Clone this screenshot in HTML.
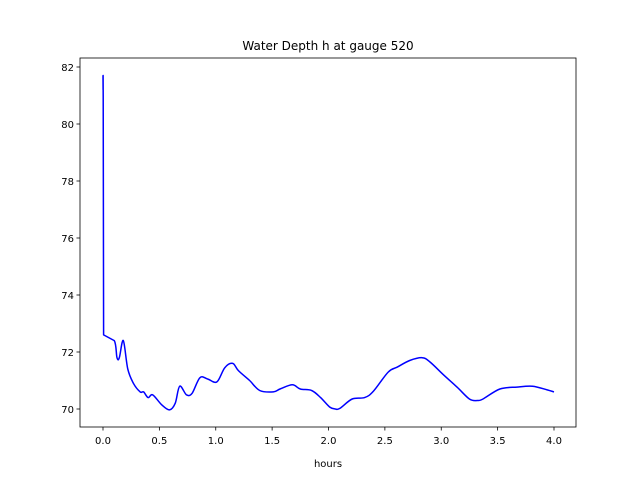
<!DOCTYPE html>
<html><head><meta charset="utf-8"><style>body{margin:0;background:#fff}svg{display:block;font-family:"DejaVu Sans","Liberation Sans",sans-serif}</style></head>
<body>
<svg id="c" width="640" height="480"></svg>
<script>
const hours=[0,0.0005,0.001,0.002,0.005,0.1,0.124,0.145,0.18,0.22,0.27,0.33,0.36,0.40,0.44,0.52,0.59,0.64,0.68,0.74,0.79,0.86,0.93,1.01,1.08,1.15,1.20,1.30,1.39,1.51,1.57,1.68,1.75,1.85,1.93,2.01,2.06,2.10,2.21,2.32,2.40,2.53,2.61,2.72,2.83,2.90,3.02,3.14,3.25,3.32,3.37,3.52,3.67,3.81,3.94,4.0];
const depth=[81.7,81.2,81.7,81.0,72.6,72.4,71.8,71.8,72.4,71.4,70.9,70.6,70.6,70.4,70.5,70.15,69.97,70.2,70.8,70.5,70.55,71.1,71.05,70.95,71.45,71.6,71.35,71.0,70.65,70.6,70.7,70.85,70.7,70.65,70.4,70.07,70.0,70.02,70.35,70.4,70.63,71.3,71.47,71.7,71.8,71.65,71.2,70.77,70.35,70.3,70.35,70.7,70.77,70.8,70.67,70.6];
const xTicks=[0,0.5,1,1.5,2,2.5,3,3.5,4];
const xLabels=["0.0","0.5","1.0","1.5","2.0","2.5","3.0","3.5","4.0"];
const yTicks=[70,72,74,76,78,80,82];
const L=80,R=576,T=58,B=427;
const sx=v=>103+v*112.75;
const sy=v=>409-(v-70)*28.5;
const svg=document.getElementById('c');const NS='http://www.w3.org/2000/svg';
function mk(t,a,txt){const e=document.createElementNS(NS,t);for(const k in a)e.setAttribute(k,a[k]);if(txt!==undefined)e.textContent=txt;svg.appendChild(e);return e;}
const P=hours.map((h,i)=>[sx(h),sy(depth[i])]);
let d='M'+P[0][0].toFixed(1)+' '+P[0][1].toFixed(1);
for(let i=0;i<P.length-1;i++){
  const p0=P[Math.max(0,i-1)],p1=P[i],p2=P[i+1],p3=P[Math.min(P.length-1,i+2)];
  if(i<5){d+='L'+p2[0].toFixed(1)+' '+p2[1].toFixed(1);continue;}
  const c1=[p1[0]+(p2[0]-p0[0])/6,p1[1]+(p2[1]-p0[1])/6];
  const c2=[p2[0]-(p3[0]-p1[0])/6,p2[1]-(p3[1]-p1[1])/6];
  d+='C'+c1[0].toFixed(1)+' '+c1[1].toFixed(1)+' '+c2[0].toFixed(1)+' '+c2[1].toFixed(1)+' '+p2[0].toFixed(1)+' '+p2[1].toFixed(1);
}
const p=mk('path',{d:d,fill:'none',stroke:'#0000ff','stroke-width':1.5,'stroke-linejoin':'round'});


const fr=mk('rect',{x:L,y:T,width:R-L,height:B-T,fill:'none',stroke:'#000','stroke-width':0.8});


xTicks.forEach((v,i)=>{const x=sx(v);mk('line',{x1:x,x2:x,y1:B,y2:B+3.5,stroke:'#000','stroke-width':0.8});
const t=mk('text',{x:x,y:B+17,'font-size':10,'text-anchor':'middle'},xLabels[i]);

});
yTicks.forEach(v=>{const y=sy(v);mk('line',{x1:L-3.5,x2:L,y1:y,y2:y,stroke:'#000','stroke-width':0.8});
const t=mk('text',{x:L-6,y:y+4,'font-size':10,'text-anchor':'end'},String(v));

});
const xt=mk('text',{x:(L+R)/2,y:467,'font-size':10,'text-anchor':'middle'},'hours');


const ti=mk('text',{x:(L+R)/2,y:50,'font-size':12,'text-anchor':'middle'},'Water Depth h at gauge 520');


</script>
</body></html>
